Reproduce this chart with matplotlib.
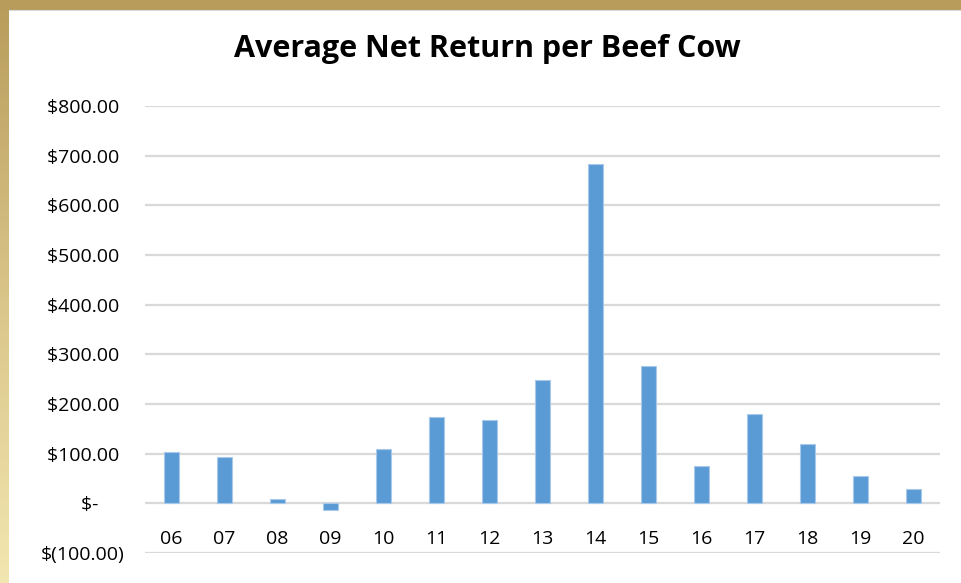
import numpy as np
import matplotlib
matplotlib.use('Agg')
import matplotlib.pyplot as plt
from matplotlib.colors import LinearSegmentedColormap

years = ['06', '07', '08', '09', '10', '11', '12', '13', '14', '15', '16', '17', '18', '19', '20']
net_return = [103, 93, 8, -14, 109, 173, 167, 248, 684, 276, 76, 179, 120, 56, 29]

y_ticks = [-100, 0, 100, 200, 300, 400, 500, 600, 700, 800]
y_labels = ['$(100.00)', '$-     ', '$100.00 ', '$200.00 ', '$300.00 ', '$400.00 ',
            '$500.00 ', '$600.00 ', '$700.00 ', '$800.00 ']

W, H = 961, 583
fig = plt.figure(figsize=(W / 100, H / 100), dpi=100)

# gold frame behind the white chart panel
bg = fig.add_axes([0, 0, 1, 1])
gold = LinearSegmentedColormap.from_list('gold', ['#f2e6b0', '#d9c488', '#b89c5c'])
bg.imshow(np.linspace(0, 1, 100).reshape(-1, 1), cmap=gold, aspect='auto',
          origin='lower', extent=[0, 1, 0, 1])
bg.set_axis_off()

panel = fig.add_axes([9 / W, 0, 1 - 9 / W, 1 - 10 / H])
panel.set_facecolor('white')
for s in panel.spines.values():
    s.set_visible(False)
panel.spines['top'].set_visible(True)
panel.spines['top'].set_color('#d9d9d9')
panel.set_xticks([])
panel.set_yticks([])

ax = fig.add_axes([145 / W, 1 - 553 / H, (940 - 145) / W, (553 - 106) / H])
ax.set_facecolor('none')
x = np.arange(len(years))
ax.bar(x, net_return, width=0.3, color='#5b9bd5', edgecolor='#a9c9ea', linewidth=0.8, zorder=3)

ax.set_ylim(-100, 800)
ax.set_xlim(-0.5, len(years) - 0.5)
ax.set_yticks(y_ticks)
ax.set_yticklabels(y_labels, fontfamily='Open Sans', fontsize=14)
ax.grid(axis='y', color='#d9d9d9', linewidth=1.6, zorder=0)
ax.tick_params(axis='y', length=0, pad=15)

ax.spines['bottom'].set_position(('data', 0))
for s in ax.spines.values():
    s.set_visible(False)
ax.set_xticks(x)
ax.set_xticklabels(years, fontfamily='Open Sans', fontsize=14)
ax.tick_params(axis='x', length=0, pad=19)

fig.text(487 / W, 1 - 49 / H, 'Average Net Return per Beef Cow', ha='center', va='center',
         fontfamily='Open Sans', fontweight='bold', fontsize=22)

fig.savefig('out.png', dpi=100)
